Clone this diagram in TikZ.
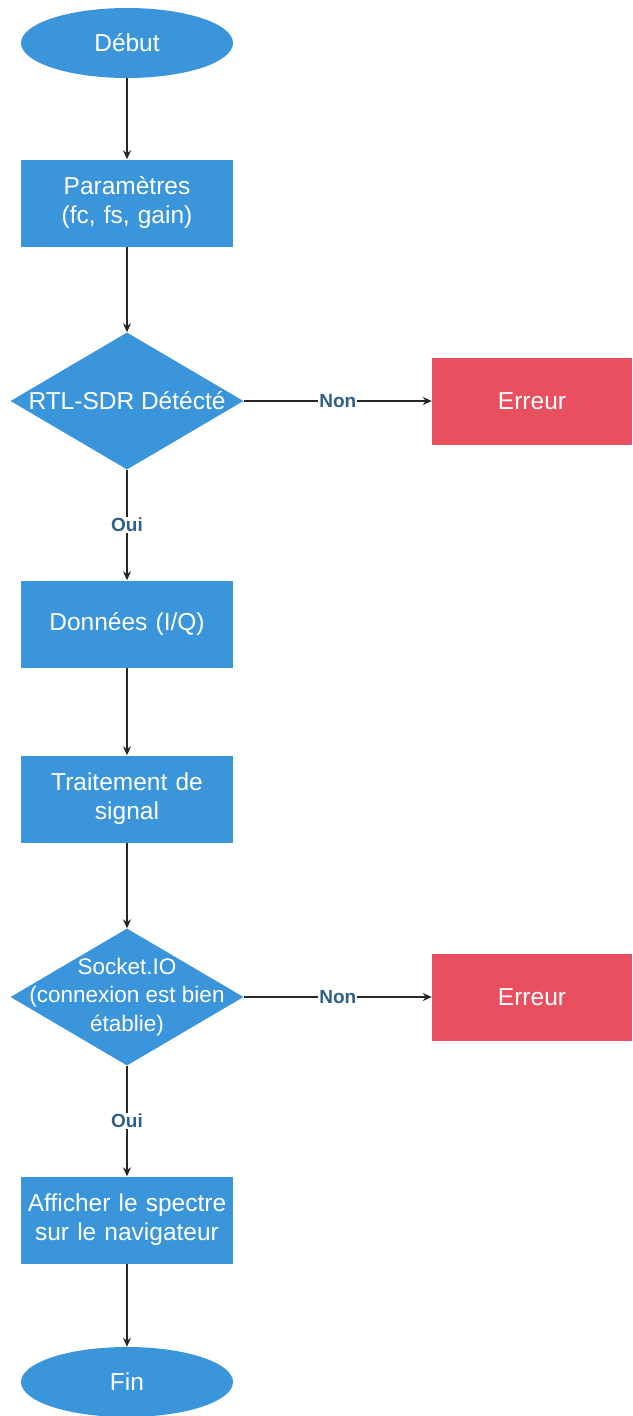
\documentclass[tikz,border=0pt]{standalone}
\usepackage{fontspec}
\setmainfont{Liberation Sans}
\usetikzlibrary{shapes.geometric,arrows.meta}
\definecolor{fblue}{HTML}{3A95DB}
\definecolor{fred}{HTML}{E8505F}
\definecolor{flabel}{HTML}{2F5E86}
\tikzset{
  base/.style={fill=fblue,draw=none,text=white,font=\fontsize{24.5}{29}\selectfont,align=center,inner sep=0pt},
  term/.style={base,ellipse,minimum width=212pt,minimum height=70pt},
  procbox/.style={base,rectangle,minimum width=212pt,minimum height=87pt,text width=210pt},
  decis/.style={base,diamond,minimum width=233pt,minimum height=137pt},
  dtext/.style={text=white,font=\fontsize{24.5}{28.5}\selectfont,align=center,inner sep=0pt},
  dtextsm/.style={dtext,font=\fontsize{22.5}{28.5}\selectfont},
  errbox/.style={base,rectangle,fill=fred,minimum width=200pt,minimum height=87pt},
  conn/.style={draw=black!85,line width=1.4pt,-{Stealth[length=9pt,width=8pt]}},
  lab/.style={fill=white,text=flabel,font=\bfseries\fontsize{19}{22}\selectfont,inner sep=1pt}
}
\begin{document}
\begin{tikzpicture}[x=1pt,y=-1pt]
\useasboundingbox (0,0) rectangle (632,1416);
\node[term] (debut) at (127,43) {Début};
\node[procbox] (param) at (127,203) {Paramètres\\(fc, fs, gain)};
\node[decis] (rtl) at (127,401) {};
\node[dtext] (rtltext) at (rtl.center) {RTL-SDR Détécté};
\node[errbox] (err1) at (532,401) {Erreur};
\node[procbox] (donnees) at (127,624) {Données (I/Q)};
\node[procbox] (trait) at (127,799) {Traitement de\\signal};
\node[decis] (sock) at (127,997) {};
\node[dtextsm] (socktext) at (sock.center) {Socket.IO\\(connexion est bien\\établie)};
\node[errbox] (err2) at (532,997) {Erreur};
\node[procbox] (aff) at (127,1220) {Afficher le spectre\\sur le navigateur};
\node[term] (fin) at (127,1382) {Fin};
\draw[conn] (debut) -- (param);
\draw[conn] (param) -- (rtl);
\draw[conn] (rtl) -- node[lab,pos=0.5] {Non} (err1);
\draw[conn] (rtl) -- node[lab,pos=0.5] {Oui} (donnees);
\draw[conn] (donnees) -- (trait);
\draw[conn] (trait) -- (sock);
\draw[conn] (sock) -- node[lab,pos=0.5] {Non} (err2);
\draw[conn] (sock) -- node[lab,pos=0.5] {Oui} (aff);
\draw[conn] (aff) -- (fin);
\end{tikzpicture}
\end{document}
